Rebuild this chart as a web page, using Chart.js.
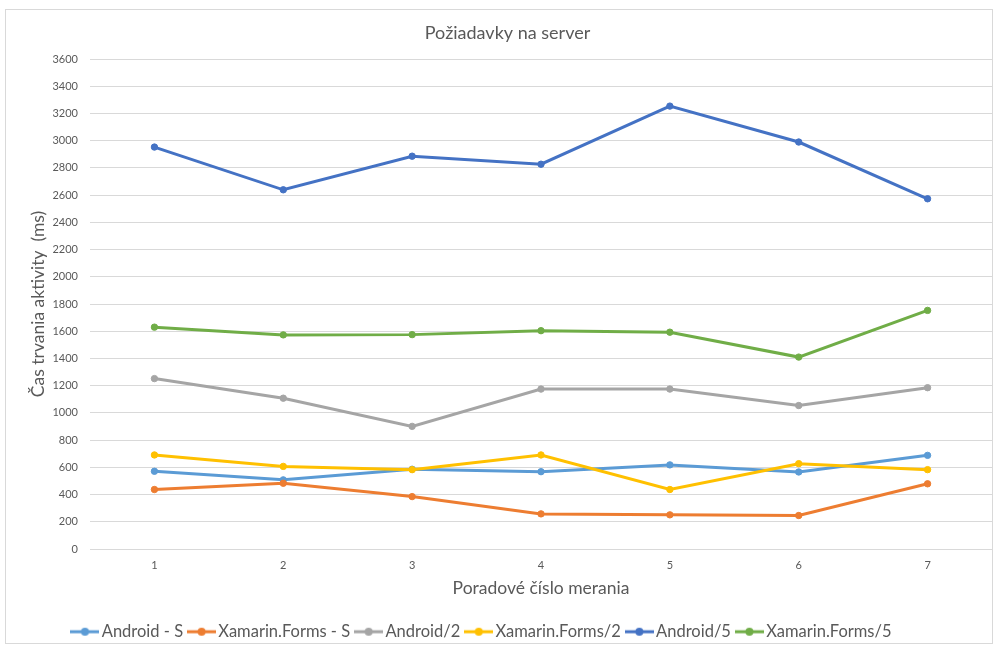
<!DOCTYPE html>
<html>
<head>
<meta charset="utf-8">
<script src="https://cdn.jsdelivr.net/npm/chart.js@4"></script>
<style>
  html, body { margin: 0; padding: 0; background: #ffffff; }
  #wrap { position: relative; width: 999px; height: 650px; }
  #frame { position: absolute; left: 5px; top: 9px; width: 988px; height: 635px; border: 1px solid #d9d9d9; box-sizing: border-box; pointer-events: none; }
  canvas { position: absolute; left: 0; top: 0; }
</style>
</head>
<body>
<div id="wrap">
  <canvas id="c" width="999" height="650"></canvas>
  <div id="frame"></div>
</div>
<script>
const titleText = "Požiadavky na server";
const xTitle = "Poradové číslo merania";
const yTitle = "Čas trvania aktivity  (ms)";
const categories = ["1", "2", "3", "4", "5", "6", "7"];

const seriesNames = ["Android - S", "Xamarin.Forms - S", "Android/2", "Xamarin.Forms/2", "Android/5", "Xamarin.Forms/5"];
const androidS = [571, 508, 586, 568, 618, 566, 688];
const xamarinS = [437, 483, 385, 258, 251, 246, 479];
const android2 = [1252, 1108, 901, 1175, 1175, 1054, 1185];
const xamarin2 = [691, 607, 583, 691, 437, 627, 583];
const android5 = [2953, 2639, 2886, 2827, 3254, 2990, 2573];
const xamarin5 = [1630, 1573, 1575, 1604, 1593, 1410, 1753];
const seriesColors = ["#5B9BD5", "#ED7D31", "#A5A5A5", "#FFC000", "#4472C4", "#70AD47"];

const FONT = "Lato, Carlito, 'Open Sans', sans-serif";
const TXT = "#595959";

function legendMarker(color) {
  const c = document.createElement('canvas');
  c.width = 29; c.height = 10;
  const g = c.getContext('2d');
  g.strokeStyle = color; g.lineWidth = 3;
  g.beginPath(); g.moveTo(0, 5); g.lineTo(29, 5); g.stroke();
  g.fillStyle = color;
  g.beginPath(); g.arc(14.5, 5, 4, 0, Math.PI * 2); g.fill();
  return c;
}

const allValues = [androidS, xamarinS, android2, xamarin2, android5, xamarin5];
const datasets = allValues.map((vals, i) => ({
  label: seriesNames[i],
  data: vals,
  borderColor: seriesColors[i],
  backgroundColor: seriesColors[i],
  pointBackgroundColor: seriesColors[i],
  pointBorderColor: seriesColors[i],
  borderWidth: 3,
  pointRadius: 3.2,
  pointBorderWidth: 1,
  tension: 0,
  fill: false,
  order: allValues.length - i,
  marker: legendMarker(seriesColors[i])
}));

const shiftBoxes = {
  id: 'shiftBoxes',
  afterLayout(chart) {
    if (chart.titleBlock) { chart.titleBlock.left = 23; }
    if (chart.legend) { chart.legend.right = chart.legend.right - 24; }
  }
};

new Chart(document.getElementById('c'), {
  type: 'line',
  data: { labels: categories, datasets: datasets },
  plugins: [shiftBoxes],
  options: {
    responsive: false,
    animation: false,
    layout: { padding: { left: 0, right: 7, top: 0, bottom: 0 } },
    plugins: {
      title: {
        display: true,
        text: titleText,
        color: TXT,
        font: { family: FONT, size: 18, weight: 'normal' },
        padding: { top: 22, bottom: 15.4 }
      },
      legend: {
        position: 'bottom',
        labels: {
          color: TXT,
          font: { family: FONT, size: 16.5 },
          usePointStyle: true,
          pointStyleWidth: 17,
          padding: 10,
          sort: (a, b) => a.datasetIndex - b.datasetIndex,
          generateLabels: (chart) => chart.data.datasets.map((ds, i) => ({
            text: ds.label,
            fillStyle: ds.borderColor,
            strokeStyle: ds.borderColor,
            fontColor: TXT,
            lineWidth: 0,
            pointStyle: ds.marker,
            hidden: false,
            datasetIndex: i
          }))
        }
      },
      tooltip: { enabled: false }
    },
    scales: {
      x: {
        offset: true,
        grid: { display: false, drawTicks: false },
        border: { display: false },
        ticks: { color: TXT, font: { family: FONT, size: 11 }, padding: 10 },
        title: { display: true, text: xTitle, color: TXT, font: { family: FONT, size: 17.5 }, padding: { top: 4, bottom: 15 } },
        afterFit: (s) => { s.height = 64.5; }
      },
      y: {
        min: 0, max: 3600,
        grid: { color: '#d9d9d9', lineWidth: 1, drawTicks: false },
        border: { display: false },
        ticks: { stepSize: 200, color: TXT, font: { family: FONT, size: 11 }, padding: 12, callback: (v) => String(v) },
        title: { display: true, text: yTitle, color: TXT, font: { family: FONT, size: 17.5 }, padding: { top: 28, bottom: 4 } },
        afterFit: (s) => { s.width = 90; }
      }
    }
  }
});
</script>
</body>
</html>
